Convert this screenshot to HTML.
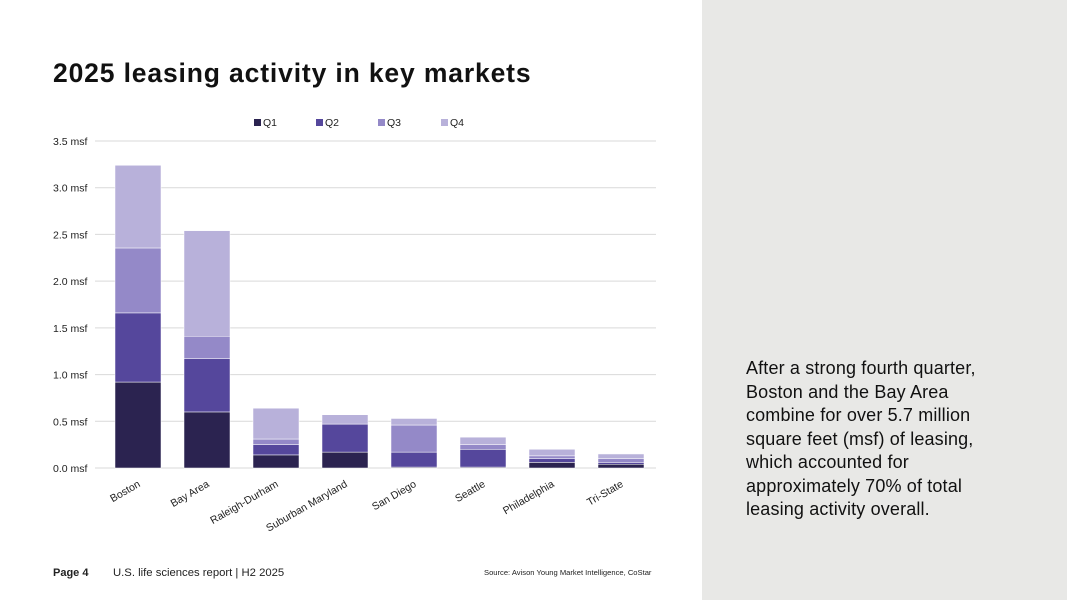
<!DOCTYPE html>
<html><head><meta charset="utf-8"><style>
body{margin:0;width:1067px;height:600px;overflow:hidden;background:#fff;font-family:"Liberation Sans",sans-serif;position:relative}
#panel{position:absolute;left:702px;top:0;width:365px;height:600px;background:#e8e8e6}
#title{position:absolute;left:53px;top:58px;font-size:26.5px;font-weight:bold;color:#111;letter-spacing:0.85px;white-space:nowrap}
#side{position:absolute;left:746px;top:357px;width:270px;font-size:18px;line-height:23.5px;color:#111;letter-spacing:0.15px}
.foot{position:absolute;font-size:11px;color:#222}
</style></head><body>
<div id="panel"></div>
<div id="title">2025 leasing activity in key markets</div>
<div id="side">After a strong fourth quarter, Boston and the Bay Area combine for over 5.7 million square feet (msf) of leasing, which accounted for approximately 70% of total leasing activity overall.</div>
<div class="foot" style="left:53px;top:567px;font-weight:bold">Page 4</div>
<div class="foot" style="left:113px;top:567px;font-size:11.3px">U.S. life sciences report | H2 2025</div>
<div class="foot" style="left:484px;top:568px;font-size:7.6px">Source: Avison Young Market Intelligence, CoStar</div>
<svg id="chart" width="1067" height="600" style="position:absolute;left:0;top:0"></svg>
<script>
const categories=["Boston","Bay Area","Raleigh-Durham","Suburban Maryland","San Diego","Seattle","Philadelphia","Tri-State"];
const q1=[0.92,0.60,0.14,0.17,0.01,0.01,0.06,0.04];
const q2=[0.74,0.57,0.11,0.30,0.16,0.19,0.04,0.02];
const q3=[0.695,0.24,0.06,0.0,0.29,0.05,0.03,0.04];
const q4=[0.885,1.13,0.33,0.10,0.07,0.08,0.07,0.05];
const seriesNames=["Q1","Q2","Q3","Q4"];
const ticks=[0,0.5,1.0,1.5,2.0,2.5,3.0,3.5];
const colors=["#2b2350","#55479c","#9489c8","#b8b1da"];
const svg=document.getElementById('chart');
const NS="http://www.w3.org/2000/svg";
const y=v=>468-v*(327/3.5);
const xc=i=>138+i*69;
function mk(t,a){const e=document.createElementNS(NS,t);for(const k in a)e.setAttribute(k,a[k]);svg.appendChild(e);return e;}
ticks.forEach(t=>{
 const l=mk('line',{x1:95,x2:656,y1:y(t),y2:y(t),stroke:'#d9d9d9','stroke-width':1});
 
 
 const tx=mk('text',{x:53,y:y(t)+4,'font-size':10.5,fill:'#222','font-family':'Liberation Sans, sans-serif'});
 tx.textContent=t.toFixed(1)+' msf';
 
 
});
const series=[q1,q2,q3,q4];
categories.forEach((c,i)=>{
 let base=0;
 series.forEach((s,k)=>{
  const v=s[i];
  if(v>0){
   const r=mk('rect',{x:xc(i)-23,y:y(base+v),width:46,height:y(base)-y(base+v),fill:colors[k],stroke:'#fff','stroke-width':0.5});
   
   
  }
  base+=v;
 });
 const ax=xc(i)+3, ay=486;
 const tx=mk('text',{x:ax,y:ay,'font-size':10.5,fill:'#222','text-anchor':'end',transform:`rotate(-30 ${ax} ${ay})`,'font-family':'Liberation Sans, sans-serif'});
 tx.textContent=c;
 
 
});
const lx=[254,316,378,441];
seriesNames.forEach((n,k)=>{
 const r=mk('rect',{x:lx[k],y:119,width:7,height:7,fill:colors[k]});
 
 
 const t=mk('text',{x:lx[k]+9,y:126,'font-size':10.5,fill:'#222','font-family':'Liberation Sans, sans-serif'});
 t.textContent=n;
 
 
});
</script>
</body></html>
